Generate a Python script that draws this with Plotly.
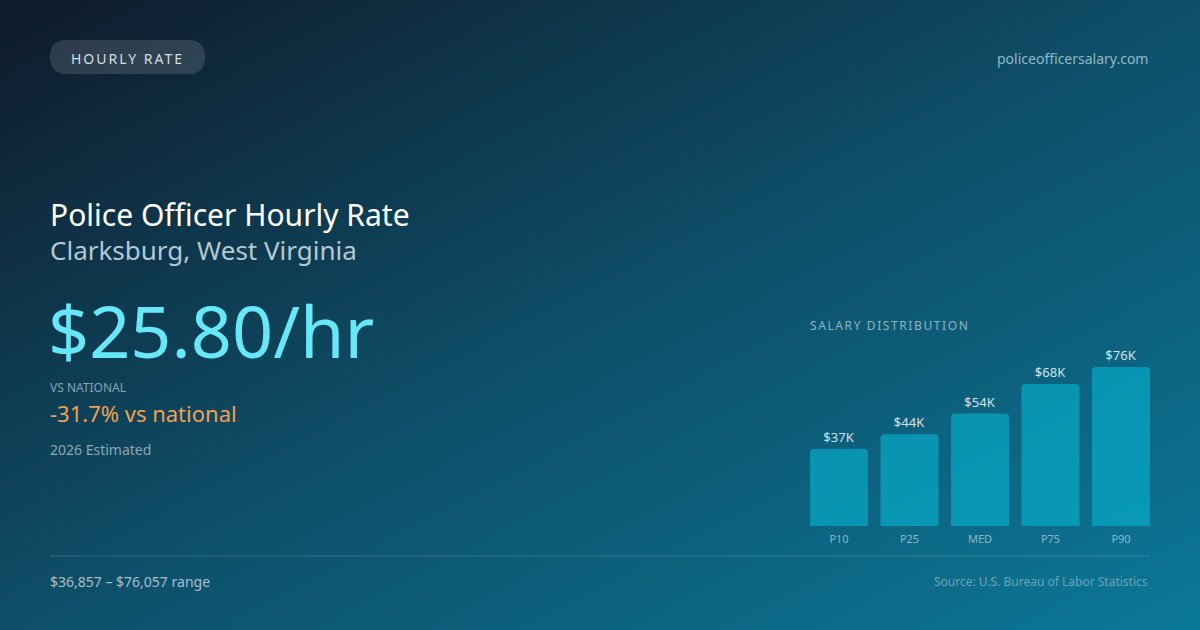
import plotly.graph_objects as go

# salary distribution (annual, USD)
pct_labels = ["P10", "P25", "MED", "P75", "P90"]
pct_values = [36857, 43900, 53800, 67900, 76057]
bar_text = ["$37K", "$44K", "$54K", "$68K", "$76K"]

hourly_rate = "$25.80/hr"
vs_national = "-31.7% vs national"
range_text = "$36,857 – $76,057 range"

W, H = 1200, 630
FONT = "Noto Sans"

fig = go.Figure()

# background gradient (pixel coordinate axes)
fig.add_trace(go.Heatmap(
    x=[0, W], y=[0, H], z=[[0, 0.5], [0.5, 1]],
    zsmooth="best", showscale=False, hoverinfo="skip",
    colorscale=[[0, "#0f1a2a"], [0.5, "#0e4f68"], [1, "#0b7898"]],
    xaxis="x", yaxis="y",
))

# bars
fig.add_trace(go.Bar(
    x=pct_labels, y=pct_values, text=bar_text,
    textposition="outside", cliponaxis=False,
    textfont=dict(family=FONT, size=13, color="#cfe2ea"),
    marker=dict(color="rgba(6,182,212,0.6)", cornerradius=4, line_width=0),
    xaxis="x2", yaxis="y2", hoverinfo="skip",
))

bar_top = 300
bar_bottom = 526
ymax = max(pct_values) * (bar_bottom - bar_top) / (bar_bottom - 367)

fig.update_layout(
    width=W, height=H,
    margin=dict(l=0, r=0, t=0, b=0),
    paper_bgcolor="#0e4d66",
    plot_bgcolor="rgba(0,0,0,0)",
    showlegend=False,
    bargap=0.177,
    xaxis=dict(range=[0, W], domain=[0, 1], visible=False, fixedrange=True),
    yaxis=dict(range=[H, 0], domain=[0, 1], visible=False, fixedrange=True),
    xaxis2=dict(domain=[803.75 / W, 1156.25 / W], anchor="y2", showgrid=False,
                showline=False, zeroline=False, ticks="outside", ticklen=3,
                tickcolor="rgba(0,0,0,0)", fixedrange=True,
                tickfont=dict(family=FONT, size=11, color="#8db6c7")),
    yaxis2=dict(domain=[1 - bar_bottom / H, 1 - bar_top / H], anchor="x2",
                range=[0, ymax], visible=False, fixedrange=True),
)

# pill + divider
fig.add_shape(type="path", xref="x", yref="y",
              path="M 67,40 L 188,40 Q 205,40 205,57 Q 205,74 188,74 "
                   "L 67,74 Q 50,74 50,57 Q 50,40 67,40 Z",
              fillcolor="rgba(255,255,255,0.13)", line_width=0, layer="above")
fig.add_shape(type="line", xref="x", yref="y", x0=50, x1=1150, y0=556, y1=556,
              line=dict(color="rgba(255,255,255,0.15)", width=1))


def txt(x, y, s, size, color, anchor="left"):
    fig.add_annotation(x=x, y=y, xref="x", yref="y", text=s, showarrow=False,
                       xanchor=anchor, yanchor="middle",
                       font=dict(family=FONT, size=size, color=color))


txt(127, 58, '<span style="letter-spacing:2px">HOURLY RATE</span>', 14, "#d3dde5", "center")
txt(1150, 58, "policeofficersalary.com", 14, "#8fb9ca", "right")
txt(48, 214, "Police Officer Hourly Rate", 30, "#ffffff")
txt(48, 250, "Clarksburg, West Virginia", 26, "#b4c8d4")
txt(46, 330, hourly_rate, 72, "#67e8f9")
txt(48, 387, "VS NATIONAL", 12, "#8aa3b3")
txt(48, 413, vs_national, 22, "#f0a050")
txt(48, 449, "2026 Estimated", 14, "#8fa6b5")
txt(808, 325, '<span style="letter-spacing:1.6px">SALARY DISTRIBUTION</span>', 12, "#8db4c5")
txt(48, 581, range_text, 14, "#a9bfcc")
txt(1150, 581, "Source: U.S. Bureau of Labor Statistics", 12, "#6ea3b8", "right")

fig.write_html("out.html", config={"displayModeBar": False},
               post_script="document.body.style.margin='0';")
